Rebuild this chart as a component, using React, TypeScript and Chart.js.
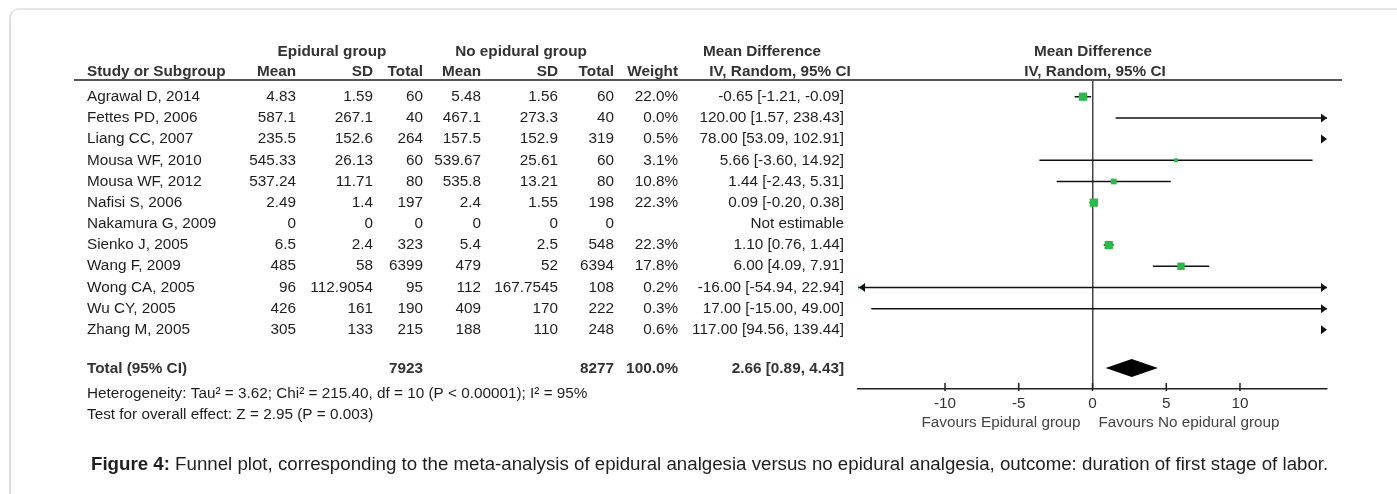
import React, { useEffect, useRef } from "react";
import { Chart, registerables } from "chart.js";

Chart.register(...registerables);

// ---------- data ----------
const studies = [
  "Agrawal D, 2014",
  "Fettes PD, 2006",
  "Liang CC, 2007",
  "Mousa WF, 2010",
  "Mousa WF, 2012",
  "Nafisi S, 2006",
  "Nakamura G, 2009",
  "Sienko J, 2005",
  "Wang F, 2009",
  "Wong CA, 2005",
  "Wu CY, 2005",
  "Zhang M, 2005",
];
const epiMean = [4.83, 587.1, 235.5, 545.33, 537.24, 2.49, 0, 6.5, 485, 96, 426, 305];
const epiSD = [1.59, 267.1, 152.6, 26.13, 11.71, 1.4, 0, 2.4, 58, 112.9054, 161, 133];
const epiTotal = [60, 40, 264, 60, 80, 197, 0, 323, 6399, 95, 190, 215];
const noMean = [5.48, 467.1, 157.5, 539.67, 535.8, 2.4, 0, 5.4, 479, 112, 409, 188];
const noSD = [1.56, 273.3, 152.9, 25.61, 13.21, 1.55, 0, 2.5, 52, 167.7545, 170, 110];
const noTotal = [60, 40, 319, 60, 80, 198, 0, 548, 6394, 108, 222, 248];
const weights: (number | null)[] = [22.0, 0.0, 0.5, 3.1, 10.8, 22.3, null, 22.3, 17.8, 0.2, 0.3, 0.6];
const meanDiff: (number | null)[] = [-0.65, 120.0, 78.0, 5.66, 1.44, 0.09, null, 1.1, 6.0, -16.0, 17.0, 117.0];
const ciLow: (number | null)[] = [-1.21, 1.57, 53.09, -3.6, -2.43, -0.2, null, 0.76, 4.09, -54.94, -15.0, 94.56];
const ciHigh: (number | null)[] = [-0.09, 238.43, 102.91, 14.92, 5.31, 0.38, null, 1.44, 7.91, 22.94, 49.0, 139.44];

const totalEpi = 7923;
const totalNo = 8277;
const totalWeight = 100.0;
const totalMD = 2.66;
const totalLow = 0.89;
const totalHigh = 4.43;

const xTicks = [-10, -5, 0, 5, 10];
const xMin = -15.9;
const xMax = 15.9;

const heterogeneityText = "Heterogeneity: Tau\u00b2 = 3.62; Chi\u00b2 = 215.40, df = 10 (P < 0.00001); I\u00b2 = 95%";
const overallText = "Test for overall effect: Z = 2.95 (P = 0.003)";
const favoursLeft = "Favours Epidural group";
const favoursRight = "Favours No epidural group";
const captionBold = "Figure 4:";
const captionText =
  " Funnel plot, corresponding to the meta-analysis of epidural analgesia versus no epidural analgesia, outcome: duration of first stage of labor.";

// ---------- layout constants ----------
const TOTAL_ROW = 12.85;
const FONT = '"Liberation Sans", Arial, Helvetica, sans-serif';
const GREEN = "#2db84a";
const FS = 15.3;

function fmtCI(m: number, lo: number, hi: number) {
  return `${m.toFixed(2)} [${lo.toFixed(2)}, ${hi.toFixed(2)}]`;
}

export default function App() {
  const ref = useRef<HTMLCanvasElement>(null);

  useEffect(() => {
    const canvas = ref.current;
    if (!canvas) return;

    const squarePts: any[] = [];
    const squareRadius: number[] = [];
    meanDiff.forEach((m, i) => {
      if (m === null) return;
      squarePts.push({ x: m, y: i });
      const w = weights[i] ?? 0;
      const side = Math.max(4, 1.75 * Math.sqrt(w));
      squareRadius.push(side / (2 * Math.SQRT1_2));
    });

    const ciPts: any[] = [];
    meanDiff.forEach((m, i) => {
      if (m === null) return;
      ciPts.push({ x: ciLow[i], y: i }, { x: ciHigh[i], y: i }, { x: null, y: null });
    });

    const tablePlugin = {
      id: "forestTable",
      afterDraw(chart: any) {
        const { ctx, chartArea } = chart;
        const xs = chart.scales.x;
        const ys = chart.scales.y;
        ctx.save();

        const text = (s: string, x: number, y: number, align: CanvasTextAlign, bold = false, color = "#1e1e1e", size = FS) => {
          ctx.font = `${bold ? "bold " : ""}${size}px ${FONT}`;
          ctx.fillStyle = color;
          ctx.textAlign = align;
          ctx.textBaseline = "middle";
          ctx.fillText(s, x, y);
        };

        // headers
        const h1 = chartArea.top - 28;
        const h2 = chartArea.top - 8;
        const hc = "#333";
        text("Epidural group", 332, h1, "center", true, hc);
        text("No epidural group", 521, h1, "center", true, hc);
        text("Mean Difference", 762, h1, "center", true, hc);
        text("Mean Difference", 1093, h1, "center", true, hc);
        text("Study or Subgroup", 87, h2, "left", true, hc);
        text("Mean", 296, h2, "right", true, hc);
        text("SD", 373, h2, "right", true, hc);
        text("Total", 423, h2, "right", true, hc);
        text("Mean", 481, h2, "right", true, hc);
        text("SD", 558, h2, "right", true, hc);
        text("Total", 614, h2, "right", true, hc);
        text("Weight", 678, h2, "right", true, hc);
        text("IV, Random, 95% CI", 780, h2, "center", true, hc);
        text("IV, Random, 95% CI", 1095, h2, "center", true, hc);

        // header underline
        ctx.strokeStyle = "#555";
        ctx.lineWidth = 2;
        ctx.beginPath();
        ctx.moveTo(74, chartArea.top);
        ctx.lineTo(1342, chartArea.top);
        ctx.stroke();

        // rows
        studies.forEach((s, i) => {
          const y = ys.getPixelForValue(i);
          text(s, 87, y, "left");
          text(String(epiMean[i]), 296, y, "right");
          text(String(epiSD[i]), 373, y, "right");
          text(String(epiTotal[i]), 423, y, "right");
          text(String(noMean[i]), 481, y, "right");
          text(String(noSD[i]), 558, y, "right");
          text(String(noTotal[i]), 614, y, "right");
          const w = weights[i];
          if (w !== null) text(`${w.toFixed(1)}%`, 678, y, "right");
          const m = meanDiff[i];
          if (m === null) text("Not estimable", 844, y, "right");
          else text(fmtCI(m, ciLow[i] as number, ciHigh[i] as number), 844, y, "right");
        });

        // total row
        const ty = ys.getPixelForValue(TOTAL_ROW);
        text("Total (95% CI)", 87, ty, "left", true, "#333");
        text(String(totalEpi), 423, ty, "right", true, "#333");
        text(String(totalNo), 614, ty, "right", true, "#333");
        text(`${totalWeight.toFixed(1)}%`, 678, ty, "right", true, "#333");
        text(fmtCI(totalMD, totalLow, totalHigh), 844, ty, "right", true, "#333");

        // footer
        text(heterogeneityText, 87, chartArea.bottom + 5, "left");
        text(overallText, 87, chartArea.bottom + 26, "left");

        // arrows for CIs beyond axis
        const arrow = (xTip: number, y: number, dir: number) => {
          ctx.fillStyle = "#111";
          ctx.beginPath();
          ctx.moveTo(xTip, y);
          ctx.lineTo(xTip - dir * 6, y - 4.5);
          ctx.lineTo(xTip - dir * 6, y + 4.5);
          ctx.closePath();
          ctx.fill();
        };
        meanDiff.forEach((m, i) => {
          if (m === null) return;
          const y = ys.getPixelForValue(i);
          if ((ciHigh[i] as number) > xMax) arrow(chartArea.right, y, 1);
          if ((ciLow[i] as number) < xMin) arrow(chartArea.left + 1, y, -1);
        });

        // diamond
        const dl = xs.getPixelForValue(totalLow);
        const dm = xs.getPixelForValue(totalMD);
        const dr = xs.getPixelForValue(totalHigh);
        ctx.fillStyle = "#000";
        ctx.beginPath();
        ctx.moveTo(dl, ty - 1);
        ctx.lineTo(dm, ty - 10);
        ctx.lineTo(dr, ty - 1);
        ctx.lineTo(dm, ty + 8);
        ctx.closePath();
        ctx.fill();

        // tick marks crossing axis
        ctx.strokeStyle = "#222";
        ctx.lineWidth = 1.5;
        xTicks.forEach((v) => {
          const x = xs.getPixelForValue(v);
          ctx.beginPath();
          ctx.moveTo(x, chartArea.bottom - 6);
          ctx.lineTo(x, chartArea.bottom + 2);
          ctx.stroke();
        });

        // favours labels
        const zx = xs.getPixelForValue(0);
        text(favoursLeft, zx - 12, chartArea.bottom + 34, "right", false, "#444");
        text(favoursRight, zx + 6, chartArea.bottom + 34, "left", false, "#444");

        // caption
        const cy = 465;
        const cs = 18.7;
        ctx.font = `bold ${cs}px ${FONT}`;
        const bw = ctx.measureText(captionBold).width;
        text(captionBold, 91, cy, "left", true, "#1e1e1e", cs);
        text(captionText, 91 + bw, cy, "left", false, "#1e1e1e", cs);

        ctx.restore();
      },
    };

    const chart = new Chart(canvas, {
      type: "scatter",
      data: {
        datasets: [
          {
            label: "Studies",
            data: squarePts,
            pointStyle: "rect",
            pointRadius: squareRadius,
            pointHoverRadius: squareRadius,
            backgroundColor: GREEN,
            borderWidth: 0,
            showLine: false,
          },
          {
            label: "CI",
            data: ciPts,
            showLine: true,
            spanGaps: false,
            borderColor: "#111",
            borderWidth: 1.5,
            pointRadius: 0,
            pointHoverRadius: 0,
          },
        ],
      },
      options: {
        responsive: false,
        animation: false,
        events: [],
        layout: { padding: { left: 858, right: 70, top: 80, bottom: 65 } },
        plugins: { legend: { display: false }, tooltip: { enabled: false } },
        scales: {
          x: {
            type: "linear",
            min: xMin,
            max: xMax,
            afterBuildTicks: (scale: any) => {
              scale.ticks = xTicks.map((v) => ({ value: v }));
            },
            afterFit: (scale: any) => {
              scale.height = 40;
            },
            ticks: {
              padding: 6,
              color: "#333",
              font: { size: FS, family: FONT },
              callback: (v: any) => String(v),
              maxRotation: 0,
              autoSkip: false,
            },
            grid: {
              drawTicks: false,
              lineWidth: 1.5,
              color: (c: any) => (c.tick && c.tick.value === 0 ? "#444" : "rgba(0,0,0,0)"),
            },
            border: { display: true, color: "#222", width: 1.5 },
          },
          y: {
            type: "linear",
            display: false,
            reverse: true,
            min: -0.788,
            max: 13.79,
          },
        },
      },
      plugins: [tablePlugin],
    });

    return () => chart.destroy();
  }, []);

  return (
    <div style={{ position: "fixed", left: 0, top: 0, width: 1397, height: 494, background: "#fff", overflow: "hidden" }}>
      <div
        style={{
          position: "absolute",
          left: 9,
          top: 8,
          width: 1500,
          height: 600,
          borderTop: "2px solid #e6e6e6",
          borderLeft: "2px solid #dedede",
          borderTopLeftRadius: 10,
          boxSizing: "border-box",
        }}
      />
      <canvas ref={ref} width={1397} height={494} style={{ position: "absolute", left: 0, top: 0 }} />
    </div>
  );
}
